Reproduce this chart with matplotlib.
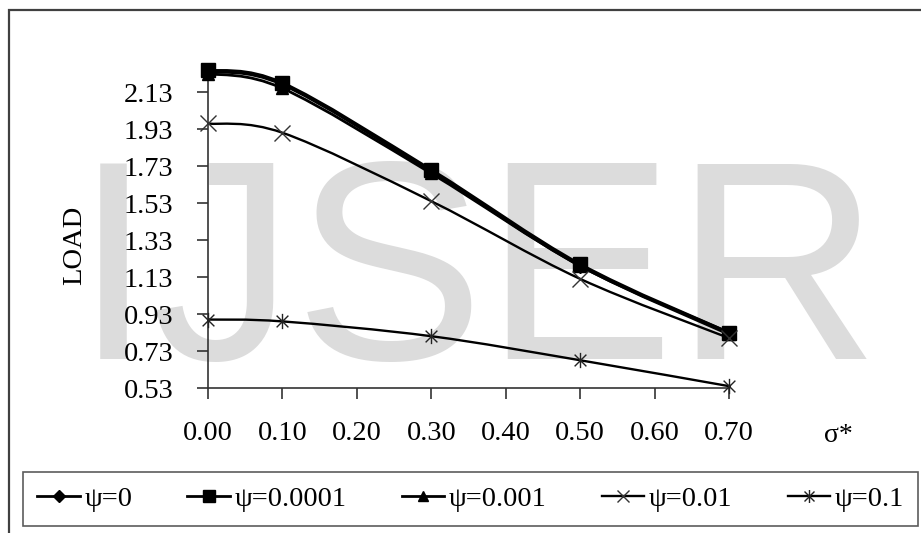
import numpy as np
import matplotlib
matplotlib.use('Agg')
import matplotlib.pyplot as plt
from matplotlib.path import Path
from matplotlib.patches import PathPatch, Rectangle
from matplotlib.lines import Line2D

# chart data
sigma = [0.0, 0.1, 0.3, 0.5, 0.7]
load_psi_0 = [2.24, 2.17, 1.70, 1.19, 0.83]
load_psi_00001 = [2.25, 2.18, 1.71, 1.20, 0.83]
load_psi_0001 = [2.23, 2.15, 1.69, 1.19, 0.82]
load_psi_001 = [1.96, 1.91, 1.54, 1.12, 0.80]
load_psi_01 = [0.90, 0.89, 0.81, 0.68, 0.54]
labels = ['ψ=0', 'ψ=0.0001', 'ψ=0.001', 'ψ=0.01', 'ψ=0.1']
x_ticks = [0.0, 0.1, 0.2, 0.3, 0.4, 0.5, 0.6, 0.7]
y_ticks = [0.53, 0.73, 0.93, 1.13, 1.33, 1.53, 1.73, 1.93, 2.13]

plt.rcParams['font.family'] = ['Liberation Serif', 'DejaVu Serif']
W, H = 921, 533

# excel-like star marker: an x with a vertical bar
star = Path([(-1, -1), (1, 1), (-1, 1), (1, -1), (0, -1.3), (0, 1.3)],
            [Path.MOVETO, Path.LINETO, Path.MOVETO, Path.LINETO, Path.MOVETO, Path.LINETO])

def smooth_path(xs, ys):
    # bezier smoothing like excel's "smoothed line"
    pts = np.column_stack([xs, ys])
    n = len(pts)
    verts = [pts[0]]
    codes = [Path.MOVETO]
    for i in range(n - 1):
        p0 = pts[i - 1] if i > 0 else pts[i]
        p3 = pts[i + 2] if i + 2 < n else pts[i + 1]
        c1 = pts[i] + (pts[i + 1] - p0) / 6
        c2 = pts[i + 1] - (p3 - pts[i]) / 6
        verts += [c1, c2, pts[i + 1]]
        codes += [Path.CURVE4] * 3
    return Path(verts, codes)

fig = plt.figure(figsize=(W / 100, H / 100), dpi=100)

# outer chart frame
fig.patches.append(Rectangle((9 / W, -0.05), 1.1, 1 - 10 / H + 0.05, transform=fig.transFigure,
                             fill=False, edgecolor='#404040', lw=1.6, zorder=0))

# watermark, kept behind the axes
fig.text(74 / W, 1 - 359 / H, 'IJSER', family='Liberation Sans', fontsize=205, color='#dcdcdc',
         ha='left', va='baseline', zorder=-1)

ax = fig.add_axes([208 / W, 145 / H, 521 / W, 320 / H])
ax.patch.set_alpha(0)

series = [
    (load_psi_0, dict(marker='D', markersize=7, lw=2.0)),
    (load_psi_00001, dict(marker='s', markersize=10, lw=2.0)),
    (load_psi_0001, dict(marker='^', markersize=9, lw=2.0)),
    (load_psi_001, dict(marker='x', markersize=11, lw=1.7, mew=1.0, mec='#333333')),
    (load_psi_01, dict(marker=star, markersize=11, lw=1.7, mew=1.0, mec='#222222')),
]
handles = []
for (vals, st), lab in zip(series, labels):
    ax.add_patch(PathPatch(smooth_path(sigma, vals), fill=False, edgecolor='black',
                           lw=st['lw'], clip_on=False, zorder=3))
    ax.plot(sigma, vals, linestyle='none', marker=st['marker'], markersize=st['markersize'],
            color='black', mec=st.get('mec', 'black'), mew=st.get('mew', 1.0),
            clip_on=False, zorder=4)
    handles.append(Line2D([], [], color='black', lw=st['lw'], marker=st['marker'],
                          markersize=st['markersize'] * 0.85, mec=st.get('mec', 'black'),
                          mew=st.get('mew', 1.0)))

ax.set_xlim(0, 0.7)
ax.set_ylim(0.53, 2.26)
ax.set_xticks(x_ticks)
ax.set_xticklabels([f'{v:.2f}' for v in x_ticks])
ax.set_yticks(y_ticks)
ax.set_yticklabels([f'{v:.2f}' for v in y_ticks])
for s in ['top', 'right']:
    ax.spines[s].set_visible(False)
for s in ['left', 'bottom']:
    ax.spines[s].set_color('#333333')
    ax.spines[s].set_linewidth(1.2)
ax.tick_params(direction='out', length=8, width=1.2, color='#333333', labelsize=20.5)
ax.tick_params(axis='y', pad=17)
ax.tick_params(axis='x', pad=16)

fig.text(75 / W, 1 - 245 / H, 'LOAD', rotation=90, fontsize=20.5, ha='center', va='center')
fig.text(838 / W, 1 - 436 / H, 'σ*', fontsize=20, ha='center', va='center')

leg = fig.legend(handles, labels, ncol=5, loc='lower left', mode='expand',
                 bbox_to_anchor=(23 / W, 7 / H, 895 / W, 63 / H),
                 fontsize=20.5, frameon=True, fancybox=False, handlelength=1.5,
                 handletextpad=0.15, borderaxespad=0, columnspacing=1.0, borderpad=0.5)
leg.get_frame().set_edgecolor('#333333')
leg.get_frame().set_linewidth(1.2)

fig.savefig('out.png', dpi=100)
